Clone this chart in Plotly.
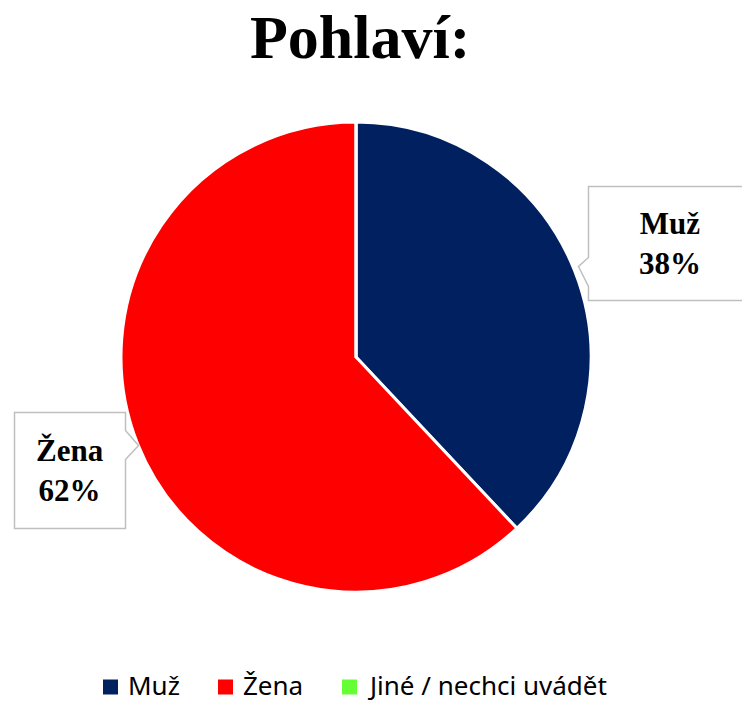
import math
import plotly.graph_objects as go

labels = ["Muž", "Žena", "Jiné / nechci uvádět"]
values = [38, 62, 0]
colors = ["#002060", "#FF0000", "#66FF33"]
title_text = "Pohlaví:"

W, H = 742, 703
CX, CY, R = 356, 357, 235  # pie centre / radius in px (layout)

def px(x):
    return x / W

def py(y):
    return 1 - y / H

fig = go.Figure(go.Pie(
    labels=labels, values=values,
    marker=dict(colors=colors, line=dict(color="white", width=3)),
    sort=False, direction="clockwise", rotation=0,
    textinfo="none", hoverinfo="label+percent", showlegend=False,
    domain=dict(x=[px(CX - R), px(CX + R)], y=[py(CY + R), py(CY - R)]),
))

shapes, annots = [], []

# callouts computed from the data (mid-angle of each slice)
total = sum(values)
cum = 0
box_sizes = {"Muž": (160, 114), "Žena": (111, 116)}
for lab, v in zip(labels, values):
    if v == 0:
        cum += v
        continue
    mid = (cum + v / 2) / total * 2 * math.pi
    cum += v
    ax = CX + R * math.sin(mid)
    ay = CY - R * math.cos(mid)
    bw, bh = box_sizes[lab]
    right = math.sin(mid) > 0
    if right:
        x0 = ax + 14
        x1 = x0 + bw
        ycen = ay - 27
        tipx = ax + 4
        tx = x0 + 82
    else:
        x1 = ax - 12
        x0 = x1 - bw
        ycen = ay + 27
        tipx = ax
        tx = (x0 + x1) / 2
    y0, y1 = ycen - bh / 2, ycen + bh / 2
    n0, n1 = ay - 13, ay + 16
    if right:
        pts = [(x0, y0), (x1, y0), (x1, y1), (x0, y1), (x0, n1), (tipx, ay - 4), (x0, n0)]
    else:
        pts = [(x0, y0), (x1, y0), (x1, n0), (tipx + 1, ay + 2), (x1, n1), (x1, y1), (x0, y1)]
    path = "M " + " L ".join(f"{px(a):.5f},{py(b):.5f}" for a, b in pts) + " Z"
    shapes.append(dict(type="path", xref="paper", yref="paper", path=path,
                       fillcolor="white", line=dict(color="#BFBFBF", width=1.5)))
    pct = round(v / total * 100)
    annots.append(dict(x=px(tx), y=py(ycen), xref="paper", yref="paper",
                       text=f"<b>{lab}<br>{pct}%</b>", showarrow=False,
                       font=dict(family="Liberation Serif", size=31, color="black"),
                       xanchor="center", yanchor="middle", align="center"))

annots.append(dict(x=px(360), y=py(37), xref="paper", yref="paper",
                   text=f"<b>{title_text}</b>", showarrow=False,
                   font=dict(family="Liberation Serif", size=62, color="black"),
                   xanchor="center", yanchor="middle"))

# legend (swatch + label for each category)
legend_swatch_x = [103, 218, 342]
LEG_Y, SW = 685, 15
for lab, col, sx in zip(labels, colors, legend_swatch_x):
    shapes.append(dict(type="rect", xref="paper", yref="paper",
                       x0=px(sx), x1=px(sx + SW),
                       y0=py(LEG_Y + SW / 2 + 2), y1=py(LEG_Y - SW / 2 + 2),
                       fillcolor=col, line=dict(width=0)))
    annots.append(dict(x=px(sx + SW + 8), y=py(LEG_Y), xref="paper", yref="paper",
                       text=lab, showarrow=False, xanchor="left", yanchor="middle",
                       font=dict(family="Noto Sans", size=26, color="black")))

fig.update_layout(
    width=W, height=H,
    margin=dict(l=0, r=0, t=0, b=0),
    paper_bgcolor="white", plot_bgcolor="white",
    showlegend=False,
    shapes=shapes, annotations=annots,
)

fig.write_html("out.html",
               config={"displayModeBar": False},
               post_script="document.body.style.margin='0px';document.body.style.overflow='hidden';")
